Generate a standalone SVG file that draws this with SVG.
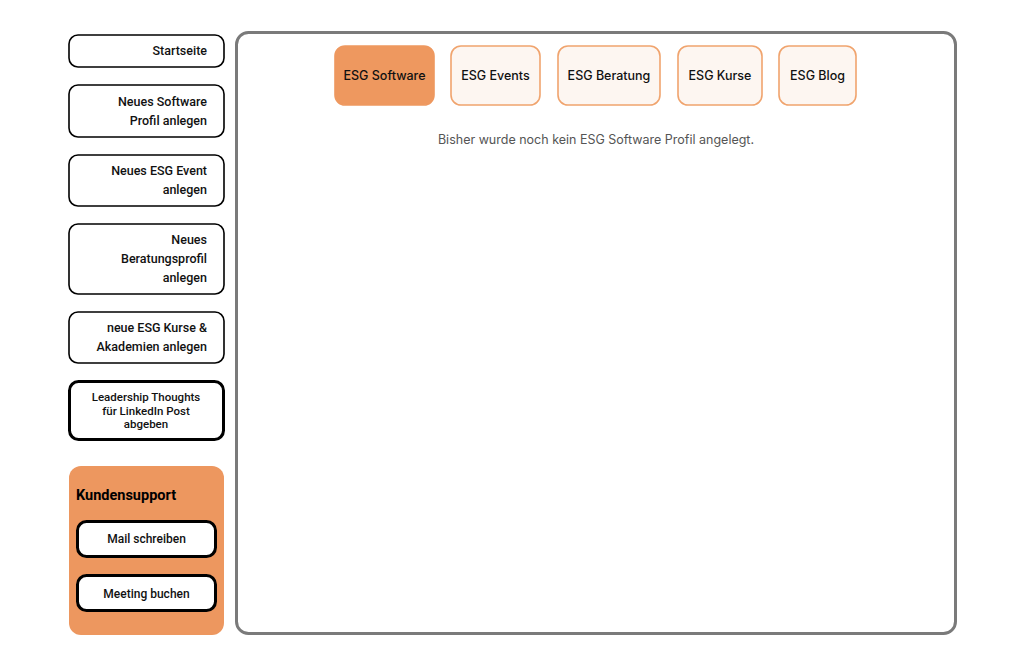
<svg xmlns="http://www.w3.org/2000/svg" width="1024" height="671" viewBox="0 0 1024 671">
<style>
.nav{fill:#fff;stroke:#000;stroke-width:1.6}
.navb{fill:#fff;stroke:#000;stroke-width:3}
.t{font-family:Roboto,"Liberation Sans",sans-serif;font-size:12.5px;font-weight:500;fill:#111}
.r{text-anchor:end}
.c{text-anchor:middle}
.tab{fill:#FDF6F1;stroke:#F0A46E;stroke-width:1.6}
.tabOn{fill:#EE985F;stroke:#EE985F;stroke-width:1.6}
.tt{font-family:Inter,"Liberation Sans",sans-serif;font-size:12.5px;font-weight:500;fill:#111;text-anchor:middle}
</style>
<rect width="1024" height="671" fill="#fff"/>
<g id="startseite"><rect class="nav" x="69" y="35" width="155" height="32" rx="9"/><text class="t r" x="207" y="55">Startseite</text></g>
<g id="software-profil"><rect class="nav" x="69" y="85" width="155" height="52" rx="9"/><text class="t r" x="207" y="106">Neues Software</text><text class="t r" x="207" y="125">Profil anlegen</text></g>
<g id="esg-event"><rect class="nav" x="69" y="155" width="155" height="51" rx="9"/><text class="t r" x="207" y="175">Neues ESG Event</text><text class="t r" x="207" y="194">anlegen</text></g>
<g id="beratungsprofil"><rect class="nav" x="69" y="224" width="155" height="70" rx="9"/><text class="t r" x="207" y="244">Neues</text><text class="t r" x="207" y="263">Beratungsprofil</text><text class="t r" x="207" y="282">anlegen</text></g>
<g id="kurse"><rect class="nav" x="69" y="312" width="155" height="51" rx="9"/><text class="t r" x="207" y="332">neue ESG Kurse &amp;</text><text class="t r" x="207" y="351">Akademien anlegen</text></g>
<g id="leadership"><rect class="navb" x="69.5" y="381.5" width="154" height="58" rx="9"/><text class="t c" x="146" y="401" style="font-size:11.5px">Leadership Thoughts</text><text class="t c" x="146" y="414.5" style="font-size:11.5px">für LinkedIn Post</text><text class="t c" x="146" y="428" style="font-size:11.5px">abgeben</text></g>
<g id="kundensupport"><rect x="69" y="466" width="155" height="169" rx="12" fill="#ED975F"/><text x="76" y="500" style="font-family:Roboto,'Liberation Sans',sans-serif;font-size:14.5px;font-weight:700;fill:#000">Kundensupport</text>
<g id="mail"><rect class="navb" x="77.5" y="521.5" width="138" height="35" rx="9"/><text class="t c" x="146.5" y="543" style="font-size:12px">Mail schreiben</text></g>
<g id="meeting"><rect class="navb" x="77.5" y="575.5" width="138" height="35" rx="9"/><text class="t c" x="146.5" y="597.5" style="font-size:12px">Meeting buchen</text></g></g>
<g id="panel"><rect x="236.5" y="32.5" width="719" height="601" rx="12" fill="#fff" stroke="#7a7a7a" stroke-width="3"/></g>
<g id="tab-software"><rect class="tabOn" x="335" y="46" width="99" height="59" rx="10"/><text class="tt" x="384.5" y="80">ESG Software</text></g>
<g id="tab-events"><rect class="tab" x="451" y="46" width="89" height="59" rx="10"/><text class="tt" x="495.5" y="80">ESG Events</text></g>
<g id="tab-beratung"><rect class="tab" x="558" y="46" width="102" height="59" rx="10"/><text class="tt" x="609" y="80">ESG Beratung</text></g>
<g id="tab-kurse"><rect class="tab" x="678" y="46" width="84" height="59" rx="10"/><text class="tt" x="720" y="80">ESG Kurse</text></g>
<g id="tab-blog"><rect class="tab" x="779" y="46" width="77" height="59" rx="10"/><text class="tt" x="817.5" y="80">ESG Blog</text></g>
<g id="connectors"></g>
<text x="596" y="144" style="font-family:Inter,'Liberation Sans',sans-serif;font-size:12.5px;fill:#555;text-anchor:middle">Bisher wurde noch kein ESG Software Profil angelegt.</text>
</svg>
